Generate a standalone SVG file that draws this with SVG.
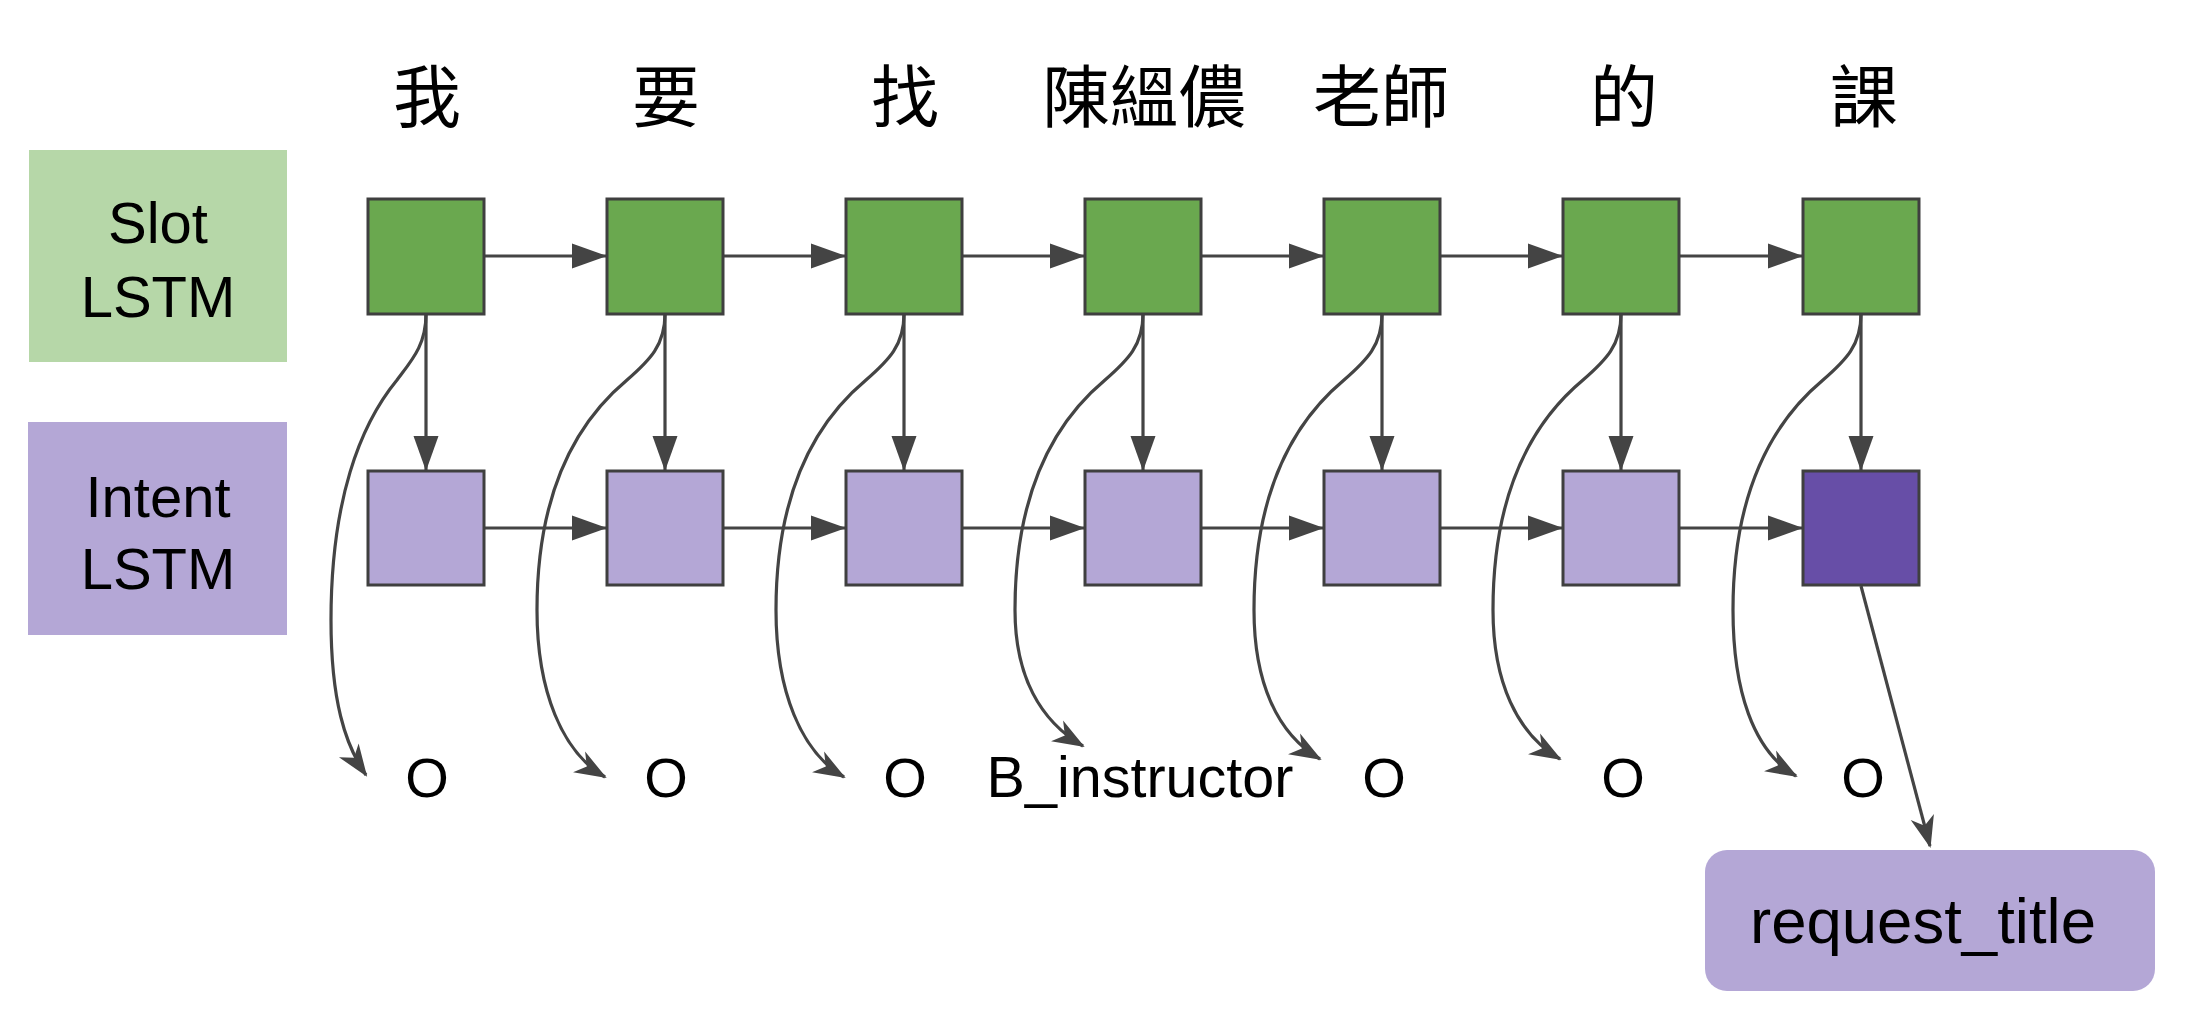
<svg xmlns="http://www.w3.org/2000/svg" width="2190" height="1012" viewBox="0 0 2190 1012">
  <style>
    .slot { fill: #6aa84f; stroke: #3f3f3f; stroke-width: 3; }
    .intent { fill: #b4a7d6; stroke: #3f3f3f; stroke-width: 3; }
    .intentLast { fill: #674ea7; stroke: #3f3f3f; stroke-width: 3; }
    .edge { fill: none; stroke: #444444; stroke-width: 3.2; }
    .lbl { font-family: "Liberation Sans", Arial, sans-serif; fill: #000; text-anchor: middle; }
    .cjk { font-family: "Noto Sans CJK TC", "Noto Sans CJK SC", sans-serif; font-size: 68px; fill: #000; text-anchor: middle; }
  </style>
  <defs>
    <marker id="block" markerUnits="userSpaceOnUse" orient="auto" refX="0" refY="0" markerWidth="40" markerHeight="30" viewBox="-38 -15 40 30" overflow="visible">
      <path d="M 0 0 L -35 -12.5 L -35 12.5 Z" fill="#444444"/>
    </marker>
    <marker id="classic" markerUnits="userSpaceOnUse" orient="auto" refX="0" refY="0" markerWidth="40" markerHeight="30" viewBox="-36 -15 40 30" overflow="visible">
      <path d="M 2 0 L -30 -12 L -21 0 L -30 12 Z" fill="#444444"/>
    </marker>
  </defs>
  <rect width="2190" height="1012" fill="#ffffff"/>

  <g id="label-slot">
    <rect x="29" y="150" width="258" height="212" fill="#b6d7a8"/>
    <text class="lbl" x="158" y="243" font-size="58">Slot</text>
    <text class="lbl" x="158" y="317" font-size="58">LSTM</text>
  </g>
  <g id="label-intent">
    <rect x="28" y="422" width="259" height="213" fill="#b4a7d6"/>
    <text class="lbl" x="158" y="517" font-size="58">Intent</text>
    <text class="lbl" x="158" y="589" font-size="58">LSTM</text>
  </g>

  <g id="words">
    <text class="cjk" x="427" y="122">我</text>
    <text class="cjk" x="666" y="122">要</text>
    <text class="cjk" x="905" y="122">找</text>
    <text class="cjk" x="1144" y="122">陳縕儂</text>
    <text class="cjk" x="1381" y="122">老師</text>
    <text class="cjk" x="1624" y="122">的</text>
    <text class="cjk" x="1864" y="122">課</text>
  </g>

  <g id="connectors">
    <path class="edge" marker-end="url(#block)" d="M 484 256 L 607 256"/>
    <path class="edge" marker-end="url(#block)" d="M 723 256 L 846 256"/>
    <path class="edge" marker-end="url(#block)" d="M 962 256 L 1085 256"/>
    <path class="edge" marker-end="url(#block)" d="M 1201 256 L 1324 256"/>
    <path class="edge" marker-end="url(#block)" d="M 1440 256 L 1563 256"/>
    <path class="edge" marker-end="url(#block)" d="M 1679 256 L 1803 256"/>

    <path class="edge" marker-end="url(#block)" d="M 484 528 L 607 528"/>
    <path class="edge" marker-end="url(#block)" d="M 723 528 L 846 528"/>
    <path class="edge" marker-end="url(#block)" d="M 962 528 L 1085 528"/>
    <path class="edge" marker-end="url(#block)" d="M 1201 528 L 1324 528"/>
    <path class="edge" marker-end="url(#block)" d="M 1440 528 L 1563 528"/>
    <path class="edge" marker-end="url(#block)" d="M 1679 528 L 1803 528"/>

    <path class="edge" marker-end="url(#block)" d="M 426 314 L 426 471"/>
    <path class="edge" marker-end="url(#block)" d="M 665 314 L 665 471"/>
    <path class="edge" marker-end="url(#block)" d="M 904 314 L 904 471"/>
    <path class="edge" marker-end="url(#block)" d="M 1143 314 L 1143 471"/>
    <path class="edge" marker-end="url(#block)" d="M 1382 314 L 1382 471"/>
    <path class="edge" marker-end="url(#block)" d="M 1621 314 L 1621 471"/>
    <path class="edge" marker-end="url(#block)" d="M 1861 314 L 1861 471"/>

    <path class="edge" marker-end="url(#classic)" d="M 426 314 C 426 345 412 360 397 380 C 360 425 331 500 331 620 C 331 700 345 745 366 775"/>
    <path class="edge" marker-end="url(#classic)" d="M 665 314 C 665 345 650 360 627 380 C 585 415 537 480 537 610 C 537 691 562 752 605 777"/>
    <path class="edge" marker-end="url(#classic)" d="M 904 314 C 904 345 889 360 866 380 C 824 415 776 480 776 610 C 776 691 801 752 844 777"/>
    <path class="edge" marker-end="url(#classic)" d="M 1143 314 C 1143 345 1128 360 1105 380 C 1063 415 1015 480 1015 610 C 1015 676 1040 721 1083 746"/>
    <path class="edge" marker-end="url(#classic)" d="M 1382 314 C 1382 345 1367 360 1344 380 C 1302 415 1254 480 1254 610 C 1254 682 1277 734 1320 759"/>
    <path class="edge" marker-end="url(#classic)" d="M 1621 314 C 1621 345 1606 360 1583 380 C 1541 415 1493 480 1493 610 C 1493 682 1517 734 1560 759"/>
    <path class="edge" marker-end="url(#classic)" d="M 1861 314 C 1861 345 1846 360 1823 380 C 1781 415 1733 480 1733 610 C 1733 690 1753 751 1796 776"/>

    <path class="edge" marker-end="url(#classic)" d="M 1861 586 L 1930 846"/>
  </g>

  <g id="slot-1"><rect class="slot" x="368" y="199" width="116" height="115"/></g>
  <g id="slot-2"><rect class="slot" x="607" y="199" width="116" height="115"/></g>
  <g id="slot-3"><rect class="slot" x="846" y="199" width="116" height="115"/></g>
  <g id="slot-4"><rect class="slot" x="1085" y="199" width="116" height="115"/></g>
  <g id="slot-5"><rect class="slot" x="1324" y="199" width="116" height="115"/></g>
  <g id="slot-6"><rect class="slot" x="1563" y="199" width="116" height="115"/></g>
  <g id="slot-7"><rect class="slot" x="1803" y="199" width="116" height="115"/></g>

  <g id="intent-1"><rect class="intent" x="368" y="471" width="116" height="114"/></g>
  <g id="intent-2"><rect class="intent" x="607" y="471" width="116" height="114"/></g>
  <g id="intent-3"><rect class="intent" x="846" y="471" width="116" height="114"/></g>
  <g id="intent-4"><rect class="intent" x="1085" y="471" width="116" height="114"/></g>
  <g id="intent-5"><rect class="intent" x="1324" y="471" width="116" height="114"/></g>
  <g id="intent-6"><rect class="intent" x="1563" y="471" width="116" height="114"/></g>
  <g id="intent-7"><rect class="intentLast" x="1803" y="471" width="116" height="114"/></g>

  <g id="tags">
    <text class="lbl" x="427" y="797" font-size="56">O</text>
    <text class="lbl" x="666" y="797" font-size="56">O</text>
    <text class="lbl" x="905" y="797" font-size="56">O</text>
    <text class="lbl" x="1140" y="797" font-size="57.5">B_instructor</text>
    <text class="lbl" x="1384" y="797" font-size="56">O</text>
    <text class="lbl" x="1623" y="797" font-size="56">O</text>
    <text class="lbl" x="1863" y="797" font-size="56">O</text>
  </g>

  <g id="intent-output">
    <rect x="1705" y="850" width="450" height="141" rx="22" ry="22" fill="#b4a7d6"/>
    <text class="lbl" x="1923" y="943" font-size="63.5">request_title</text>
  </g>
</svg>
